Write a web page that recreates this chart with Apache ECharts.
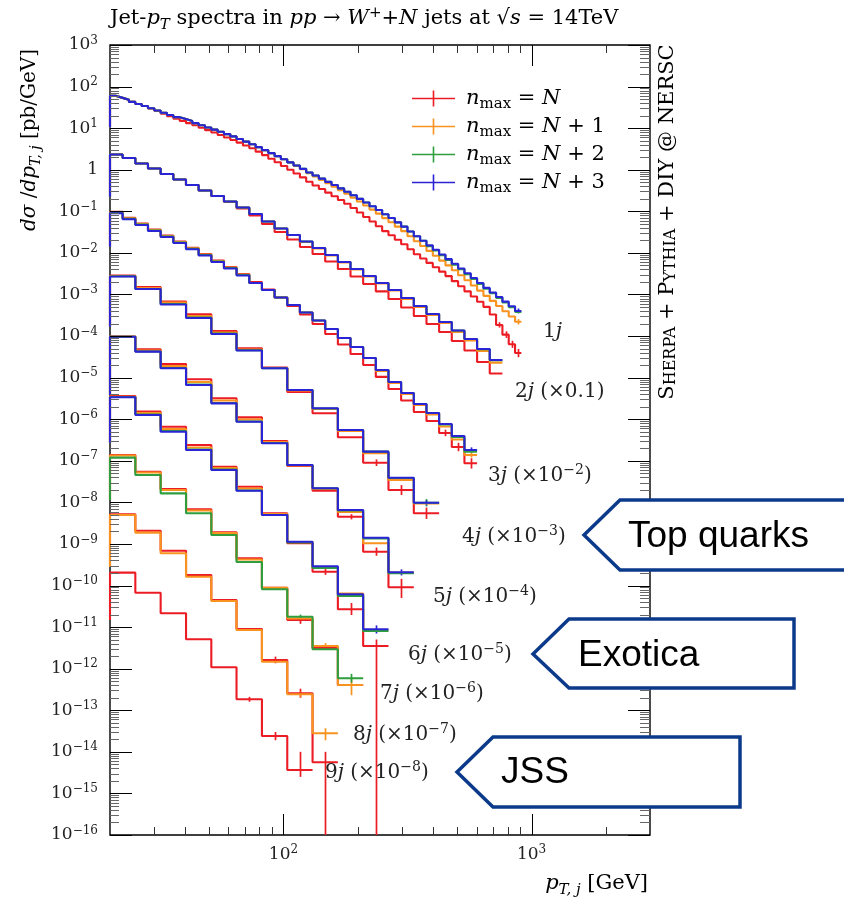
<!DOCTYPE html>
<html><head><meta charset="utf-8">
<script src="https://cdn.jsdelivr.net/npm/echarts@6/dist/echarts.min.js"></script>
<style>html,body{margin:0;padding:0;background:#fff}#c{width:844px;height:900px}</style>
</head><body><div id="c"></div><script>
// ---------- bin edges (GeV) ----------
const edges1j = [20.00,21.21,22.49,23.85,25.30,26.83,28.45,30.17,32.00,33.93,35.99,38.17,40.48,42.93,45.52,48.28,51.20,54.30,57.58,61.07,64.75,68.68,72.83,77.24,81.91,86.87,92.12,97.65,103.6,109.8,116.5,123.5,131.0,138.9,147.3,156.2,165.7,175.7,186.3,197.6,209.5,222.2,235.6,249.9,265.0,281.0,298.0,316.1,335.2,355.5,377.0,399.8,424.0,449.6,476.8,505.7,536.2,568.7,603.0,639.5,678.2,719.2,762.7,808.8,857.7,909.6];
const edges2j = [20.00,22.49,25.30,28.45,32.00,35.99,40.48,45.52,51.20,57.58,64.75,72.83,81.91,92.12,103.6,116.5,131.0,147.3,165.7,186.3,209.5,235.6,265.0,298.0,335.2,377.0,424.0,476.8,536.2,603.0,678.2,762.7];
const edgesCoarse = [20.0,25.3,32.0,40.5,51.2,64.7,81.9,103.6,131.0,165.7,209.5,265.0,335.2,424.0];

// ---------- values as plotted (pb/GeV, scaled) ----------
const j1Red = [59.6,53.5,47.9,42.8,38.2,34.0,29.8,25.9,22.4,19.5,17.0,15.0,13.2,11.7,10.2,8.97,7.85,6.87,5.98,5.21,4.48,3.83,3.29,2.72,2.25,1.84,1.51,1.23,1.00,0.811,0.655,0.514,0.417,0.343,0.281,0.230,0.187,0.152,0.120,0.0933,0.0728,0.0568,0.0439,0.0333,0.0266,0.0207,0.0161,0.0122,0.00925,0.00731,0.00575,0.00453,0.00354,0.00277,0.00209,0.00158,0.00119,0.000893,0.000671,0.000504,0.000331,0.000185,0.000108,0.0000634,0.0000391];
const j1Orange = [59.6,53.5,47.9,42.8,38.2,34.0,30.1,26.6,23.5,20.7,18.4,16.5,14.8,13.2,11.7,10.4,9.23,8.17,7.20,6.33,5.49,4.75,4.10,3.49,2.96,2.51,2.12,1.79,1.50,1.24,1.03,0.826,0.686,0.570,0.472,0.391,0.322,0.265,0.214,0.172,0.138,0.110,0.0879,0.0684,0.0548,0.0428,0.0333,0.0251,0.0190,0.0146,0.0112,0.00857,0.00653,0.00500,0.00383,0.00290,0.00219,0.00165,0.00124,0.000927,0.000700,0.000526,0.000395,0.000296,0.000221];
const j1Green = [59.6,53.5,47.9,42.8,38.2,34.0,30.1,26.6,23.5,20.7,18.4,16.5,14.8,13.2,11.7,10.4,9.23,8.17,7.20,6.33,5.49,4.75,4.10,3.49,2.96,2.51,2.12,1.79,1.50,1.26,1.05,0.861,0.724,0.610,0.511,0.428,0.356,0.296,0.243,0.199,0.163,0.132,0.108,0.0853,0.0690,0.0543,0.0428,0.0328,0.0251,0.0196,0.0145,0.0114,0.00877,0.00678,0.00523,0.00403,0.00309,0.00237,0.00180,0.00138,0.00107,0.000830,0.000643,0.000497,0.000382];
const j1Blue = [59.6,53.5,47.9,42.8,38.2,34.0,30.1,26.6,23.5,20.7,18.4,16.5,14.8,13.2,11.7,10.4,9.23,8.17,7.20,6.33,5.49,4.75,4.10,3.49,2.96,2.51,2.12,1.79,1.50,1.26,1.05,0.861,0.724,0.610,0.511,0.428,0.356,0.296,0.243,0.199,0.163,0.132,0.108,0.0853,0.0690,0.0543,0.0428,0.0328,0.0251,0.0196,0.0152,0.0119,0.00918,0.00710,0.00548,0.00422,0.00324,0.00248,0.00189,0.00144,0.00112,0.000869,0.000673,0.000520,0.000400];

const j2Red = [2.33,1.92,1.41,1.07,0.790,0.582,0.430,0.317,0.234,0.168,0.117,0.0793,0.0496,0.0318,0.0210,0.0139,0.00941,0.00621,0.00410,0.00271,0.00179,0.00119,0.000779,0.000486,0.000304,0.000195,0.000125,0.0000761,0.0000449,0.0000238,0.0000126];
const j2Orange = [2.33,1.92,1.41,1.07,0.790,0.582,0.430,0.317,0.234,0.172,0.124,0.0862,0.0569,0.0386,0.0270,0.0183,0.0128,0.00866,0.00588,0.00399,0.00271,0.00184,0.00125,0.000779,0.000500,0.000321,0.000206,0.000125,0.0000782,0.0000437,0.0000230];
const j2Green = [2.33,1.92,1.41,1.07,0.790,0.582,0.430,0.317,0.234,0.172,0.124,0.0862,0.0569,0.0386,0.0270,0.0188,0.0131,0.00890,0.00604,0.00410,0.00278,0.00189,0.00128,0.000823,0.000528,0.000339,0.000218,0.000136,0.0000850,0.0000480,0.0000262];
const j2Blue = [2.33,1.92,1.41,1.07,0.790,0.582,0.430,0.317,0.234,0.172,0.124,0.0862,0.0569,0.0386,0.0270,0.0188,0.0131,0.00890,0.00604,0.00410,0.00278,0.00189,0.00128,0.000823,0.000528,0.000339,0.000218,0.000136,0.0000850,0.0000488,0.0000266];

const j3Red = [0.0974,0.0699,0.0509,0.0365,0.0262,0.0188,0.0133,0.00941,0.00656,0.00458,0.00311,0.00200,0.00132,0.000846,0.000528,0.000330,0.000195,0.000112,0.0000627,0.0000370,0.0000201,0.0000104,5.33e-6,2.82e-6,1.49e-6,9.06e-7,4.66e-7,2.15e-7,8.71e-8];
const j3Orange = [0.0947,0.0679,0.0495,0.0355,0.0255,0.0183,0.0129,0.00915,0.00638,0.00445,0.00302,0.00189,0.00128,0.000846,0.000558,0.000369,0.000237,0.000148,0.0000898,0.0000546,0.0000297,0.0000144,7.43e-6,4.04e-6,2.20e-6,1.30e-6,6.68e-7,3.25e-7,1.38e-7];
const j3Green = [0.0921,0.0662,0.0482,0.0346,0.0248,0.0178,0.0126,0.00890,0.00621,0.00433,0.00294,0.00189,0.00128,0.000846,0.000558,0.000369,0.000237,0.000148,0.0000898,0.0000546,0.0000297,0.0000153,7.86e-6,4.27e-6,2.32e-6,1.41e-6,7.46e-7,3.74e-7,1.66e-7];
const j3Blue = [0.0896,0.0643,0.0469,0.0336,0.0241,0.0173,0.0122,0.00866,0.00604,0.00421,0.00286,0.00189,0.00128,0.000846,0.000558,0.000369,0.000237,0.000148,0.0000898,0.0000546,0.0000297,0.0000153,7.86e-6,4.27e-6,2.32e-6,1.41e-6,7.67e-7,3.95e-7,1.82e-7];

const j4Red = [2.86e-3,1.51e-3,6.78e-4,3.34e-4,1.32e-4,5.08e-5,1.75e-5,4.51e-6,1.39e-6,3.67e-7,9.00e-8,1.99e-8,5.46e-9];
const j4Orange = [2.78e-3,1.43e-3,6.41e-4,3.04e-4,1.22e-4,4.75e-5,1.71e-5,4.90e-6,1.76e-6,5.21e-7,1.52e-7,3.45e-8,9.40e-9];
const j4Green = [2.74e-3,1.35e-3,5.90e-4,2.80e-4,1.15e-4,4.55e-5,1.68e-5,5.04e-6,1.81e-6,5.50e-7,1.66e-7,3.86e-8,9.82e-9];
const j4Blue = [2.71e-3,1.35e-3,5.74e-4,2.72e-4,1.12e-4,4.49e-5,1.68e-5,5.04e-6,1.83e-6,5.50e-7,1.66e-7,3.92e-8,9.82e-9];

const j5Red = [9.76e-5,4.80e-5,2.13e-5,9.12e-6,3.18e-6,1.11e-6,2.99e-7,7.50e-8,1.91e-8,4.52e-9,6.51e-10,9.07e-11];
const j5Orange = [9.70e-5,4.49e-5,1.91e-5,7.86e-6,2.82e-6,9.85e-7,2.83e-7,7.71e-8,2.10e-8,5.87e-9,1.04e-9,2.06e-10];
const j5Green = [9.65e-5,4.25e-5,1.71e-5,6.84e-6,2.46e-6,8.81e-7,2.68e-7,7.93e-8,2.18e-8,6.38e-9,1.35e-9,1.97e-10];
const j5Blue = [9.65e-5,4.21e-5,1.68e-5,6.65e-6,2.41e-6,8.72e-7,2.64e-7,7.93e-8,2.18e-8,6.56e-9,1.41e-9,2.08e-10];

const j6Red = [3.62e-6,1.52e-6,6.61e-7,2.40e-7,7.21e-8,2.38e-8,5.46e-9,1.04e-9,2.15e-10,2.68e-11,3.51e-12];
const j6Orange = [3.48e-6,1.41e-6,5.82e-7,2.09e-7,6.71e-8,2.16e-8,5.25e-9,1.11e-9,2.72e-10,6.44e-11,8.52e-12];
const j6Green = [3.42e-6,1.30e-6,5.21e-7,1.87e-7,6.18e-8,1.93e-8,4.97e-9,1.08e-9,2.64e-10,5.61e-11,8.06e-12];
const j6Blue = [3.37e-6,1.26e-6,5.01e-7,1.82e-7,6.01e-8,1.91e-8,4.97e-9,1.13e-9,2.90e-10,6.16e-11,8.86e-12];

const j7Red = [1.38e-7,5.47e-8,2.10e-8,6.82e-9,1.91e-9,4.52e-10,8.87e-11,1.48e-11,3.15e-12,4.05e-13];
const j7Orange = [1.34e-7,5.23e-8,1.99e-8,6.38e-9,1.83e-9,4.23e-10,8.87e-11,1.61e-11,3.51e-12,4.05e-13];
const j7Green = [1.19e-7,4.56e-8,1.65e-8,5.46e-9,1.64e-9,3.68e-10,8.12e-11,1.78e-11,2.93e-12,5.88e-13];

const j8Red = [5.17e-9,2.08e-9,6.88e-10,1.79e-10,4.49e-11,9.01e-12,1.62e-12,2.56e-13,5.61e-15];
const j8Orange = [4.97e-9,1.87e-9,5.96e-10,1.63e-10,4.25e-11,8.52e-12,1.47e-12,2.42e-13,2.79e-14];

const j9Red = [2.04e-10,6.73e-11,2.15e-11,5.10e-12,1.08e-12,1.84e-13,2.41e-14,3.66e-15];

// lower end of each histogram's left edge line (at 20 GeV)
const leftDrop = [10.3,0.225,0.0141,1.68e-4,3.8e-6,2.7e-7,1.14e-8,2.8e-10,1.48e-11];

// error bars: [bin centre (GeV), low, high]
const errRed = [[740.5,1.6e-4,2.15e-4],[785.3,9.0e-5,1.30e-4],[832.8,5.2e-5,7.7e-5],[883.1,3.1e-5,4.9e-5],
  [449.5,3.9e-7,5.6e-7],[505.6,1.7e-7,2.7e-7],[568.8,6.5e-8,1.15e-7],
  [235.6,7.5e-8,1.08e-7],[298.0,1.5e-8,2.6e-8],[377.0,4.0e-9,7.5e-9],
  [186.3,3.9e-9,5.2e-9],[235.6,5.2e-10,8.2e-10],[298.0,5.0e-11,1.45e-10],
  [147.3,1.8e-10,2.6e-10],[186.3,1.95e-11,3.8e-11],[235.6,1e-18,5.0e-12],
  [116.5,1.2e-11,1.85e-11],
  [92.1,1.35e-12,1.95e-12],[116.5,2.0e-13,3.3e-13],[147.3,1e-18,1.0e-14],
  [72.8,1.6e-13,2.1e-13],[92.1,1.9e-14,3.0e-14],[116.5,2.5e-15,1.0e-14]];
const errOrange = [[883.1,1.9e-4,2.55e-4],[568.8,1.2e-7,1.6e-7],[147.3,3.0e-12,4.1e-12],[186.3,2.3e-13,6.0e-13],[116.5,2.1e-13,2.8e-13],[147.3,1.9e-14,3.7e-14]];
const errGreen = [[186.3,4.6e-13,7.5e-13],[116.5,1.55e-11,2.0e-11],[377.0,8.0e-9,1.2e-8]];
const errBlue = [[883.1,3.5e-4,4.6e-4],[568.8,1.6e-7,2.1e-7],[377.0,8.5e-9,1.12e-8],[298.0,1.75e-10,2.45e-10],[235.6,7.0e-12,1.1e-11]];

// axes / labels
const xTickValues = [100, 1000];
const xMinorTickValues = [30,40,50,60,70,80,90,200,300,400,500,600,700,800,900,2000];
const yTickValues = [1e-16,1e-15,1e-14,1e-13,1e-12,1e-11,1e-10,1e-9,1e-8,1e-7,1e-6,1e-5,1e-4,1e-3,1e-2,1e-1,1,10,100,1000];
const legendNames = ['N','N+1','N+2','N+3'];
const curveLabels = ['1{i|j}','2{i|j} (×0.1)','3{i|j} (×10{sup|−2})','4{i|j} (×10{sup|−3})','5{i|j} (×10{sup|−4})','6{i|j} (×10{sup|−5})','7{i|j} (×10{sup|−6})','8{i|j} (×10{sup|−7})','9{i|j} (×10{sup|−8})'];
const callouts = ['Top quarks','Exotica','JSS'];

// ---------- styling / layout ----------
const serif = 'DejaVu Serif';
const colors = ['#ec1c24','#f7931e','#2e9e3e','#2b24d6'];
const curveLabelPos = [[543,332],[515,392],[488,476],[462,537],[433,597],[408,655],[380,694],[353,735],[325,773]];
const calloutShapes = [
  {pts:[[584,535],[620,500],[856,500],[856,570],[620,570]], tx:628, ty:537},
  {pts:[[533,654],[569,619],[794,619],[794,688],[569,688]], tx:578, ty:656},
  {pts:[[457,772],[493,737],[740,737],[740,807],[493,807]], tx:501, ty:773}
];

const hists = [
  {edges: edges1j, drop: leftDrop[0], v: [j1Red, j1Orange, j1Green, j1Blue]},
  {edges: edges2j, drop: leftDrop[1], v: [j2Red, j2Orange, j2Green, j2Blue]},
  {edges: edges2j, drop: leftDrop[2], v: [j3Red, j3Orange, j3Green, j3Blue]},
  {edges: edgesCoarse, drop: leftDrop[3], v: [j4Red, j4Orange, j4Green, j4Blue]},
  {edges: edgesCoarse, drop: leftDrop[4], v: [j5Red, j5Orange, j5Green, j5Blue]},
  {edges: edgesCoarse, drop: leftDrop[5], v: [j6Red, j6Orange, j6Green, j6Blue]},
  {edges: edgesCoarse, drop: leftDrop[6], v: [j7Red, j7Orange, j7Green, null]},
  {edges: edgesCoarse, drop: leftDrop[7], v: [j8Red, j8Orange, null, null]},
  {edges: edgesCoarse, drop: leftDrop[8], v: [j9Red, null, null, null]}
];
const errs = [errRed, errOrange, errGreen, errBlue];

function steps(edges, vals, drop) {
  const d = [[edges[0], drop]];
  for (let i = 0; i < vals.length; i++) d.push([edges[i], vals[i]]);
  d.push([edges[vals.length], vals[vals.length - 1]]);
  return d;
}

const series = [];
for (let c = 0; c < 4; c++) {
  hists.forEach(h => {
    if (!h.v[c]) return;
    series.push({
      type: 'line', name: legendNames[c], step: 'end', symbol: 'none', silent: true,
      data: steps(h.edges, h.v[c], h.drop),
      lineStyle: {color: colors[c], width: 2.1},
      itemStyle: {color: colors[c]},
      z: 3, clip: true
    });
  });
  series.push({
    type: 'custom', name: legendNames[c], silent: true, clip: true, z: 3,
    data: errs[c], encode: {x: 0, y: [1, 2]},
    itemStyle: {color: colors[c]},
    renderItem: (params, api) => {
      const x = api.value(0);
      const p1 = api.coord([x, api.value(1)]);
      const p2 = api.coord([x, api.value(2)]);
      const xx = Math.round(p1[0]) + 0.5;
      return {type: 'line', shape: {x1: xx, y1: p1[1], x2: xx, y2: p2[1]}, style: {stroke: colors[c], lineWidth: 1.7}};
    }
  });
}

// frame ticks drawn through the axes' own scales
const yMinorTickValues = [];
yTickValues.slice(0, -1).forEach(d => { for (let m = 2; m <= 9; m++) yMinorTickValues.push(m * d); });
series.push({
  type: 'custom', silent: true, z: 5, data: [[100, 1]],
  renderItem: (params, api) => {
    const cs = params.coordSys;
    const L = cs.x, R = cs.x + cs.width, T = cs.y, B = cs.y + cs.height;
    const ch = [];
    const add = (x1, y1, x2, y2, c) => ch.push({type: 'line', shape: {x1, y1, x2, y2}, style: {stroke: c, lineWidth: 1}});
    xTickValues.forEach(v => { const x = Math.round(api.coord([v, 1])[0]) + 0.5; add(x, B, x, B - 21, '#000'); add(x, T, x, T + 21, '#000'); });
    xMinorTickValues.forEach(v => { const x = Math.round(api.coord([v, 1])[0]) + 0.5; add(x, B, x, B - 8, '#333'); add(x, T, x, T + 8, '#333'); });
    yTickValues.forEach(v => { const y = Math.round(api.coord([100, v])[1]) + 0.5; add(L, y, L + 22, y, '#000'); add(R, y, R - 22, y, '#000'); });
    yMinorTickValues.forEach(v => { const y = Math.round(api.coord([100, v])[1]) + 0.5; add(L, y, L + 9, y, '#666'); add(R, y, R - 10, y, '#666'); });
    return {type: 'group', children: ch};
  }
});

const powLabel = v => {
  const e = Math.round(Math.log10(v));
  if (e === 0) return '1';
  return '10{sup|' + (e < 0 ? '−' + (-e) : e) + '}';
};
const tickRich = {sup: {fontFamily: serif, fontSize: 12, lineHeight: 12, verticalAlign: 'top', color: '#222'}};
const textRich = (fs) => ({
  i: {fontFamily: serif, fontSize: fs, fontStyle: 'italic', lineHeight: fs + 6, verticalAlign: 'middle'},
  r: {fontFamily: serif, fontSize: fs, lineHeight: fs + 6, verticalAlign: 'middle'},
  sub: {fontFamily: serif, fontSize: Math.round(fs * 0.7), fontStyle: 'italic', lineHeight: Math.round(fs * 0.7), verticalAlign: 'bottom'},
  subr: {fontFamily: serif, fontSize: Math.round(fs * 0.7), lineHeight: Math.round(fs * 0.7), verticalAlign: 'bottom'},
  sup: {fontFamily: serif, fontSize: Math.round(fs * 0.7), lineHeight: Math.round(fs * 0.7), verticalAlign: 'top'}
});

const graphics = [];
// title
graphics.push({type: 'text', x: 110, y: 19, z: 50, style: {
  text: 'Jet-{i|p}{sub|T} spectra in {i|pp} → {i|W}{sup|+}+{i|N} jets at √{i|s} = 14TeV',
  fontFamily: serif, fontSize: 21, lineHeight: 27, fill: '#000', align: 'left', verticalAlign: 'middle', rich: textRich(21)}});
// y axis name
graphics.push({type: 'text', x: 30, y: 140, rotation: Math.PI / 2, z: 50, style: {
  text: '{i|dσ} /{i|dp}{sub|T, j} [pb/GeV]', fontFamily: serif, fontSize: 20, lineHeight: 26, fill: '#000',
  align: 'center', verticalAlign: 'middle', rich: textRich(20)}});
// x axis name
graphics.push({type: 'text', x: 648, y: 884, z: 50, style: {
  text: '{i|p}{sub|T, j} [GeV]', fontFamily: serif, fontSize: 21, lineHeight: 27, fill: '#000',
  align: 'right', verticalAlign: 'middle', rich: textRich(21)}});
// generator tag
graphics.push({type: 'text', x: 666, y: 222, rotation: Math.PI / 2, z: 50, style: {
  text: '{b|S}{s|HERPA}{b| + P}{s|YTHIA}{b| + DIY @ NERSC}', fontFamily: serif, fontSize: 21, fill: '#000',
  align: 'center', verticalAlign: 'middle',
  rich: {b: {fontFamily: serif, fontSize: 21, lineHeight: 25, verticalAlign: 'bottom'},
         s: {fontFamily: serif, fontSize: 16, lineHeight: 20, verticalAlign: 'bottom'}}}});
// curve labels
curveLabels.forEach((t, k) => {
  graphics.push({type: 'text', x: curveLabelPos[k][0], y: curveLabelPos[k][1], z: 50, style: {
    text: t, fontFamily: serif, fontSize: 20, lineHeight: 26, fill: '#222', align: 'left', verticalAlign: 'middle',
    rich: textRich(20)}});
});
// callouts
callouts.forEach((t, k) => {
  const s = calloutShapes[k];
  graphics.push({type: 'polygon', z: 100, shape: {points: s.pts},
    style: {fill: '#fff', stroke: '#0c3a8a', lineWidth: 3.5, lineJoin: 'miter'}});
  graphics.push({type: 'text', x: s.tx, y: s.ty, z: 101, style: {
    text: t, fontFamily: 'Liberation Sans', fontSize: 37, fill: '#000', align: 'left', verticalAlign: 'middle'}});
});

const chart = echarts.init(document.getElementById('c'), null, {renderer: 'canvas'});
chart.setOption({
  animation: false,
  backgroundColor: '#fff',
  grid: {left: 110, top: 45, right: 194, bottom: 65, show: true, borderColor: '#000', borderWidth: 1.4, backgroundColor: 'transparent'},
  xAxis: {
    type: 'log', logBase: 10, min: 20, max: 3000,
    axisLine: {show: false}, axisTick: {show: false}, splitLine: {show: false}, minorTick: {show: false},
    axisLabel: {customValues: xTickValues, formatter: powLabel, margin: 9, fontFamily: serif, fontSize: 17, lineHeight: 21, color: '#222', rich: tickRich}
  },
  yAxis: {
    type: 'log', logBase: 10, min: 1e-16, max: 1e3,
    axisLine: {show: false}, axisTick: {show: false}, splitLine: {show: false}, minorTick: {show: false},
    axisLabel: {customValues: yTickValues, formatter: powLabel, margin: 12, fontFamily: serif, fontSize: 17, lineHeight: 21, color: '#222', rich: tickRich}
  },
  legend: {
    data: legendNames, orient: 'vertical', left: 407, top: 80, itemWidth: 43, itemHeight: 16, itemGap: 1,
    icon: 'path://M0,7.2H43V8.8H0Z M20.7,0H22.3V16H20.7Z', selectedMode: false,
    formatter: n => '{i|n}{subr|max} = {i|N}' + (n === 'N' ? '' : ' + ' + n.slice(2)),
    textStyle: {fontFamily: serif, fontSize: 21, lineHeight: 24, color: '#000', padding: [0, 0, 0, 6], rich: textRich(21)}
  },
  graphic: graphics,
  series: series
});
</script></body></html>
